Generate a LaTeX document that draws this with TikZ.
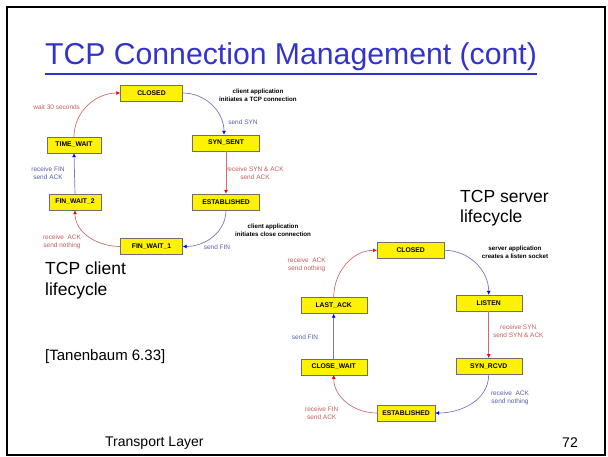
\documentclass[tikz,border=0pt]{standalone}
\usepackage{fontspec}
\setmainfont{Liberation Sans}
\usetikzlibrary{arrows.meta}
\definecolor{titleblue}{RGB}{51,51,204}
\definecolor{lred}{RGB}{204,110,110}
\definecolor{lblue}{RGB}{120,120,190}
\definecolor{tred}{RGB}{200,90,90}
\definecolor{tblue}{RGB}{90,90,170}
\definecolor{boxedge}{RGB}{110,110,110}
\tikzset{
  state/.style={draw=boxedge, fill=yellow, minimum height=16, inner sep=0pt,
    font=\fontsize{6.8}{7.5}\selectfont\bfseries},
  redarr/.style={draw=lred, line width=0.7, -{Latex[length=4,width=4,color=red]}},
  bluearr/.style={draw=lblue, line width=0.7, -{Latex[length=4,width=4,color=blue]}},
  redlab/.style={text=tred, align=center, font=\fontsize{6.5}{8}\selectfont, inner sep=0pt},
  bluelab/.style={text=tblue, align=center, font=\fontsize{6.5}{8}\selectfont, inner sep=0pt},
  blklab/.style={text=black, align=center, font=\fontsize{6.2}{8.3}\selectfont\bfseries, inner sep=0pt},
  slidetxt/.style={font=\fontsize{17.5}{20.5}\selectfont, align=left, inner sep=0pt, anchor=north west},
}
\begin{document}
\begin{tikzpicture}[x=1pt,y=-1pt]
\useasboundingbox (0,0) rectangle (608,457);
\draw[line width=2] (7,7) rectangle (605,455);
\node[text=titleblue, font=\fontsize{30.2}{34}\selectfont, inner sep=0pt, anchor=base] (title) at (291,65) {TCP Connection Management (cont)};
\draw[titleblue, line width=1.3] (title.base west) ++(0,9) -- ++(492,0);

% client lifecycle
\node[state, minimum width=62] (cclosed) at (151.5,93) {CLOSED};
\node[state, minimum width=67] (csynsent) at (226,143) {SYN\_SENT};
\node[state, minimum width=67] (cest) at (226,202) {ESTABLISHED};
\node[state, minimum width=62] (cfw1) at (151.5,246.5) {FIN\_WAIT\_1};
\node[state, minimum width=52] (cfw2) at (75,202) {FIN\_WAIT\_2};
\node[state, minimum width=54] (ctw) at (74,145) {TIME\_WAIT};

\draw[bluearr] (cclosed.east) to[out=0,in=90] ([xshift=-2]csynsent.north);
\draw[redarr] (csynsent.south) -- (cest.north);
\draw[bluearr] (cest.south) to[out=-90,in=0] (cfw1.east);
\draw[redarr] (cfw1.west) to[out=180,in=-90] (cfw2.south);
\draw[bluearr] (cfw2.north) -- (ctw.south);
\draw[redarr] (ctw.north) to[out=90,in=180] (cclosed.west);

\node[blklab] (l1) at (258,95.5) {client application\\initiates a TCP connection};
\node[bluelab] (l2) at (243,121.7) {send SYN};
\node[redlab] (l3) at (255,173) {receive SYN \& ACK\\send ACK};
\node[blklab] (l4) at (273,230) {client application\\initiates close connection};
\node[bluelab] (l5) at (217,247) {send FIN};
\node[redlab] (l6) at (62,242) {receive\ \ ACK\\send nothing};
\node[bluelab] (l7) at (48,173) {receive FIN\\send ACK};
\node[redlab] (l8) at (56.7,107) {wait 30 seconds};

% server lifecycle
\node[state, minimum width=67] (sclosed) at (410.7,250.3) {CLOSED};
\node[state, minimum width=66] (slisten) at (488.7,303) {LISTEN};
\node[state, minimum width=66] (srcvd) at (488.7,366.3) {SYN\_RCVD};
\node[state, minimum width=58] (sest) at (406,413) {ESTABLISHED};
\node[state, minimum width=66] (scw) at (333.7,366.7) {CLOSE\_WAIT};
\node[state, minimum width=66] (sla) at (333.7,305.5) {LAST\_ACK};

\draw[bluearr] (sclosed.east) to[out=0,in=90] (slisten.north);
\draw[redarr] (slisten.south) -- (srcvd.north);
\draw[bluearr] (srcvd.south) to[out=-90,in=0] (sest.east);
\draw[redarr] (sest.west) to[out=180,in=-90] (scw.south);
\draw[bluearr] (scw.north) -- (sla.south);
\draw[redarr] (sla.north) to[out=90,in=180] (sclosed.west);

\node[blklab] (m1) at (515,252.5) {server application\\creates a listen socket};
\node[redlab] (m2) at (518.3,331) {receive SYN\\send SYN \& ACK};
\node[bluelab] (m3) at (510,397.5) {receive\ \ ACK\\send nothing};
\node[redlab] (m4) at (321.7,413.5) {receive FIN\\send ACK};
\node[bluelab] (m5) at (305,336.7) {send FIN};
\node[redlab] (m6) at (306.7,264.5) {receive\ \ ACK\\send nothing};

% slide texts
\node[slidetxt] (srv) at (460,190) {TCP server\\lifecycle};
\node[slidetxt] (cli) at (45,262) {TCP client\\lifecycle};
\node[font=\fontsize{15}{17}\selectfont, inner sep=0pt, anchor=west] (ref) at (45,357) {[Tanenbaum 6.33]};
\node[font=\fontsize{14}{16}\selectfont, inner sep=0pt, anchor=west] (foot) at (105,443) {Transport Layer};
\node[font=\fontsize{14}{16}\selectfont, inner sep=0pt] (num) at (570,443) {72};
\end{tikzpicture}
\end{document}
